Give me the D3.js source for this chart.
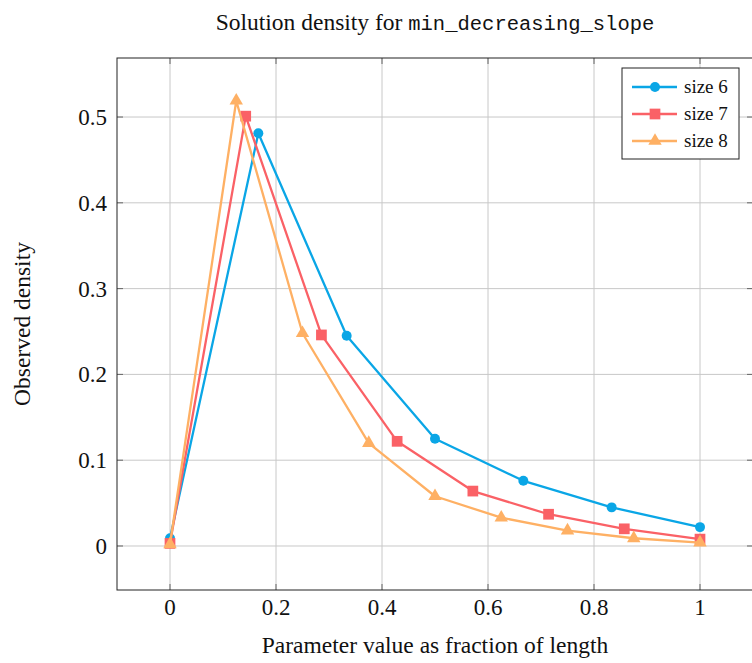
<!DOCTYPE html>
<html>
<head>
  <title>Solution density</title>
  <style>
    body { margin: 0; background: #fff; }
    svg { display: block; }
    .grid line { stroke: #c8c8c8; stroke-width: 1; }
    .tick-label { font-family: "Liberation Serif", "DejaVu Serif", serif; font-size: 23px; fill: #111; }
    .axis-title { font-family: "Liberation Serif", serif; font-size: 23.5px; fill: #111; }
    .legend-text { font-family: "Liberation Serif", serif; font-size: 19px; fill: #111; }
  </style>
</head>
<body>
  <svg width="752" height="663"></svg>

  <script src="https://cdnjs.cloudflare.com/ajax/libs/d3/7.8.5/d3.min.js"></script>
  <script>
    // datos
    const seriesNames = ["size 6", "size 7", "size 8"];
    const size6 = [0.009, 0.481, 0.245, 0.125, 0.076, 0.045, 0.022];
    const size7 = [0.003, 0.501, 0.246, 0.122, 0.064, 0.037, 0.020, 0.008];
    const size8 = [0.002, 0.519, 0.248, 0.120, 0.058, 0.033, 0.018, 0.009, 0.004];
    const xTicks = [0, 0.2, 0.4, 0.6, 0.8, 1];
    const yTicks = [0, 0.1, 0.2, 0.3, 0.4, 0.5];

    const colors = ["#0aa6e6", "#fa6166", "#feb064"];
    const symbols = [d3.symbolCircle, d3.symbolSquare, d3.symbolTriangle];
    const symSizes = [78, 115, 78];

    // x = indice / (n-1)
    const series = [size6, size7, size8].map((vals, s) => ({
      name: seriesNames[s],
      points: vals.map((v, i) => ({ x: i / (vals.length - 1), y: v }))
    }));

    const pLeft = 117, pRight = 753, pTop = 58, pBottom = 590;

    const svg = d3.select("svg");

    const x = d3.scaleLinear().domain([-0.1, 1.1]).range([pLeft, pRight]);
    const y = d3.scaleLinear().domain([-0.0513, 0.5688]).range([pBottom, pTop]);

    // rejilla
    const grid = svg.append("g").attr("class", "grid");
    grid.selectAll(".gx").data(xTicks).enter().append("line")
      .attr("x1", d => x(d)).attr("x2", d => x(d))
      .attr("y1", pTop).attr("y2", pBottom);
    grid.selectAll(".gy").data(yTicks).enter().append("line")
      .attr("x1", pLeft).attr("x2", pRight)
      .attr("y1", d => y(d)).attr("y2", d => y(d));

    // marcas de los ejes (hacia adentro)
    const ticks = svg.append("g").attr("stroke", "#666").attr("stroke-width", 1);
    xTicks.forEach(t => {
      ticks.append("line").attr("x1", x(t)).attr("x2", x(t)).attr("y1", pBottom).attr("y2", pBottom - 6);
      ticks.append("line").attr("x1", x(t)).attr("x2", x(t)).attr("y1", pTop).attr("y2", pTop + 6);
    });
    yTicks.forEach(t => {
      ticks.append("line").attr("x1", pLeft).attr("x2", pLeft + 6).attr("y1", y(t)).attr("y2", y(t));
      ticks.append("line").attr("x1", pRight).attr("x2", pRight - 6).attr("y1", y(t)).attr("y2", y(t));
    });

    // marco
    svg.append("rect")
      .attr("x", pLeft).attr("y", pTop)
      .attr("width", pRight - pLeft).attr("height", pBottom - pTop)
      .attr("fill", "none").attr("stroke", "#222").attr("stroke-width", 1);

    // etiquetas de los ticks
    svg.selectAll(".xl").data(xTicks).enter().append("text")
      .attr("class", "tick-label")
      .attr("x", d => x(d)).attr("y", pBottom + 25)
      .attr("text-anchor", "middle")
      .text(d => d3.format("~g")(d));
    svg.selectAll(".yl").data(yTicks).enter().append("text")
      .attr("class", "tick-label")
      .attr("x", pLeft - 10).attr("y", d => y(d) + 8)
      .attr("text-anchor", "end")
      .text(d => d3.format("~g")(d));

    // lineas y marcadores
    const line = d3.line().x(d => x(d.x)).y(d => y(d.y));
    series.forEach((s, i) => {
      svg.append("path")
        .datum(s.points)
        .attr("d", line)
        .attr("fill", "none")
        .attr("stroke", colors[i])
        .attr("stroke-width", 2.3)
        .attr("stroke-linejoin", "round");
      svg.selectAll(".m" + i).data(s.points).enter().append("path")
        .attr("transform", d => `translate(${x(d.x)},${y(d.y)})`)
        .attr("d", d3.symbol().type(symbols[i]).size(symSizes[i]))
        .attr("fill", colors[i]);
    });

    // titulo
    const title = svg.append("text")
      .attr("x", (pLeft + pRight) / 2).attr("y", 30)
      .attr("text-anchor", "middle")
      .attr("class", "axis-title");
    title.append("tspan").text("Solution density for ");
    title.append("tspan")
      .style("font-family", "'Liberation Mono', 'DejaVu Sans Mono', monospace")
      .style("font-size", "20.5px")
      .text("min_decreasing_slope");

    // titulos de ejes
    svg.append("text")
      .attr("class", "axis-title")
      .attr("x", (pLeft + pRight) / 2).attr("y", 653)
      .attr("text-anchor", "middle")
      .text("Parameter value as fraction of length");
    svg.append("text")
      .attr("class", "axis-title")
      .attr("transform", `translate(30,${(pTop + pBottom) / 2}) rotate(-90)`)
      .attr("text-anchor", "middle")
      .text("Observed density");

    // leyenda
    const lg = svg.append("g");
    lg.append("rect")
      .attr("x", 622).attr("y", 68).attr("width", 117).attr("height", 91)
      .attr("fill", "#fff").attr("stroke", "#222").attr("stroke-width", 1);
    seriesNames.forEach((n, i) => {
      const ly = 87 + i * 27;
      lg.append("line").attr("x1", 632).attr("x2", 677).attr("y1", ly).attr("y2", ly)
        .attr("stroke", colors[i]).attr("stroke-width", 2.3);
      lg.append("path")
        .attr("transform", `translate(655,${ly})`)
        .attr("d", d3.symbol().type(symbols[i]).size(symSizes[i]))
        .attr("fill", colors[i]);
      lg.append("text").attr("class", "legend-text")
        .attr("x", 684).attr("y", ly + 6)
        .text(n);
    });
  </script>
</body>
</html>
